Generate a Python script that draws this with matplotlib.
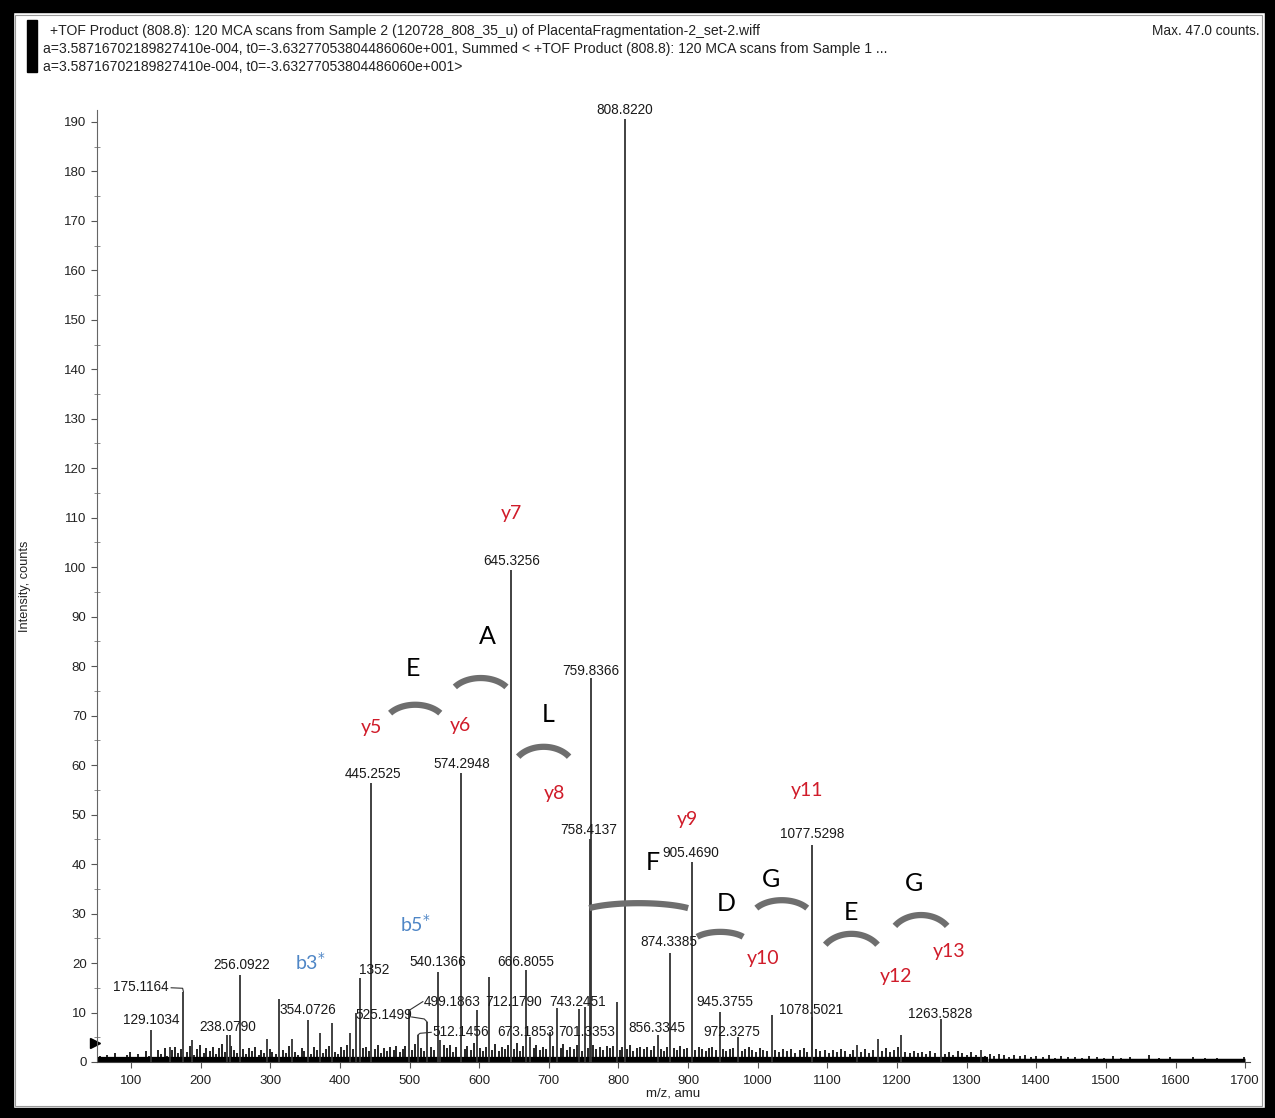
import numpy as np
import matplotlib.pyplot as plt
from matplotlib.patches import Rectangle
from matplotlib.ticker import MultipleLocator

plt.rcParams['font.family'] = ['Liberation Sans', 'DejaVu Sans']

# main peaks (m/z, intensity in counts)
peak_mz = [129.10, 156, 175.12, 187, 238.08, 242, 256.09, 295, 313, 331,
           354.07, 371.5, 388, 414.6, 423, 429.14, 445.25, 499.19, 512.15, 525.15,
           540.14, 544, 574.29, 596.5, 614.6, 645.33, 666.81, 673.19, 701.34, 712.18,
           743.25, 752, 758.41, 759.84, 797.6, 808.82, 856.33, 874.34, 905.47, 945.38,
           972.33, 1020, 1077.53, 1078.50, 1142, 1172, 1206, 1263.58, 1320]
peak_int = [6.5, 3.0, 14.2, 4.5, 5.5, 5.5, 17.6, 4.7, 12.7, 4.7,
            8.5, 5.8, 7.9, 5.8, 10.0, 17.0, 56.3, 10.5, 5.5, 8.1,
            18.2, 4.5, 58.4, 10.5, 17.2, 99.5, 18.6, 5.0, 6.0, 11.0,
            10.7, 11.2, 45.0, 77.6, 12.2, 190.6, 5.5, 22.0, 40.4, 10.2,
            5.1, 9.5, 43.9, 9.0, 3.5, 4.6, 5.5, 8.7, 2.4]

# small noise peaks along the baseline
noise_mz = [55, 60, 66, 71, 77, 83, 88, 94, 99, 104,
            110, 115, 121, 126, 133, 138, 143, 148, 152, 159,
            163, 168, 172, 180, 184, 191, 195, 199, 204, 208,
            213, 217, 222, 226, 231, 235, 244, 248, 252, 260,
            265, 269, 274, 278, 283, 287, 291, 299, 303, 308,
            318, 322, 327, 335, 340, 345, 349, 358, 362, 367,
            376, 380, 384, 393, 397, 402, 406, 410, 418, 433,
            437, 441, 450, 455, 459, 463, 468, 472, 477, 481,
            486, 490, 494, 504, 508, 516, 520, 530, 535, 549,
            553, 558, 562, 567, 579, 583, 588, 592, 601, 605,
            609, 619, 623, 628, 632, 637, 641, 650, 654, 659,
            663, 678, 682, 687, 692, 696, 706, 717, 721, 726,
            731, 736, 740, 748, 756, 763, 768, 773, 778, 783,
            788, 792, 802, 805, 812, 816, 821, 826, 831, 836,
            841, 846, 851, 861, 866, 870, 879, 884, 889, 894,
            899, 910, 915, 920, 925, 930, 935, 940, 950, 955,
            960, 965, 977, 982, 987, 992, 997, 1003, 1008, 1013,
            1025, 1031, 1036, 1042, 1048, 1054, 1060, 1066, 1071, 1084,
            1090, 1096, 1102, 1108, 1114, 1120, 1126, 1132, 1137, 1148,
            1154, 1160, 1166, 1178, 1184, 1190, 1196, 1201, 1212, 1218,
            1224, 1230, 1236, 1242, 1248, 1254, 1269, 1275, 1281, 1288,
            1294, 1300, 1307, 1313, 1326, 1333, 1340, 1347, 1354, 1361,
            1368, 1376, 1384, 1392, 1400, 1409, 1418, 1427, 1436, 1445,
            1455, 1465, 1476, 1487, 1498, 1510, 1522, 1535, 1548, 1562,
            1577, 1592, 1608, 1625, 1642, 1660, 1680, 1698]
noise_int = [1.2, 0.8, 1.5, 0.9, 1.8, 1.1, 0.7, 1.4, 2.0, 1.0,
             1.6, 0.9, 2.2, 1.3, 1.1, 2.5, 1.7, 2.8, 1.2, 2.4,
             3.0, 1.9, 2.6, 2.1, 3.2, 1.5, 2.7, 3.4, 1.8, 2.9,
             2.3, 3.1, 1.6, 2.8, 3.6, 2.0, 3.3, 2.5, 1.9, 2.6,
             1.7, 2.9, 2.2, 3.0, 1.4, 2.4, 1.8, 2.7, 2.1, 1.6,
             2.5, 1.9, 3.2, 2.0, 1.5, 2.8, 2.2, 1.7, 3.0, 2.4,
             1.8, 2.6, 3.3, 2.1, 1.6, 3.0, 2.4, 3.5, 2.7, 2.9,
             3.1, 2.2, 2.6, 3.4, 1.9, 2.8, 2.3, 3.0, 2.5, 3.2,
             2.0, 2.7, 3.3, 2.4, 3.6, 2.9, 2.2, 3.0, 2.5, 3.4,
             2.8, 3.5, 2.1, 3.0, 2.6, 3.3, 2.4, 3.8, 2.9, 2.2,
             3.1, 2.5, 3.6, 2.2, 3.0, 2.7, 3.4, 2.6, 3.9, 2.3,
             3.2, 2.8, 3.5, 2.4, 3.0, 2.6, 3.3, 2.9, 3.6, 2.5,
             3.1, 2.7, 3.4, 2.3, 2.9, 3.5, 2.6, 3.0, 2.4, 3.2,
             2.8, 3.3, 2.5, 3.0, 2.7, 3.4, 2.2, 2.9, 3.1, 2.6,
             3.0, 2.4, 3.2, 2.7, 2.3, 3.1, 2.8, 2.5, 3.3, 2.6,
             2.9, 2.4, 3.0, 2.6, 2.2, 2.8, 3.1, 2.5, 2.7, 2.3,
             2.6, 2.9, 2.2, 2.7, 3.0, 2.4, 2.1, 2.8, 2.5, 2.3,
             2.5, 2.0, 2.7, 2.3, 2.6, 1.9, 2.4, 2.8, 2.1, 2.6,
             2.2, 2.5, 1.8, 2.4, 2.0, 2.6, 2.3, 1.7, 2.5, 2.1,
             2.7, 1.9, 2.4, 2.2, 2.8, 2.0, 2.5, 3.0, 2.1, 1.8,
             2.3, 1.9, 2.1, 1.7, 2.2, 1.8, 1.6, 2.0, 1.5, 2.3,
             1.8, 1.4, 2.0, 1.5, 1.3, 1.7, 1.2, 1.6, 1.4, 1.1,
             1.5, 1.2, 1.4, 1.0, 1.3, 1.1, 1.4, 0.9, 1.2, 1.0,
             1.1, 0.8, 1.3, 1.0, 0.9, 1.2, 0.8, 1.1, 0.7, 1.5,
             0.9, 1.0, 0.7, 1.1, 0.8, 0.9, 0.6, 1.0]

# peak labels as printed on the spectrum, with where the text sits
label_text = ['808.8220', '645.3256', '759.8366', '445.2525', '574.2948', '758.4137',
              '905.4690', '1077.5298', '874.3385', '540.1366', '666.8055', '256.0922',
              '1352', '175.1164', '129.1034', '238.0790', '354.0726', '525.1499',
              '499.1863', '712.1790', '743.2451', '512.1456', '673.1853', '701.3353',
              '856.3345', '945.3755', '972.3275', '1078.5021', '1263.5828']
label_x = [809.5, 647.2, 760.0, 446.9, 575.4, 757.8,
           904.3, 1078.0, 872.7, 540.2, 667.3, 259.4,
           449.0, 114.4, 129.4, 238.6, 353.5, 462.7,
           561.0, 648.6, 740.6, 574.0, 667.3, 754.9,
           855.5, 953.0, 963.0, 1076.7, 1262.7]
label_y = [192.4, 101.3, 79.1, 58.2, 60.2, 46.9,
           42.2, 46.1, 24.3, 20.3, 20.3, 19.6,
           18.6, 15.2, 8.5, 7.1, 10.5, 9.5,
           12.2, 12.2, 12.2, 6.1, 6.1, 6.1,
           6.9, 12.2, 6.1, 10.5, 9.7]

# fragment ion names
ion_text = ['y5', 'y6', 'y7', 'y8', 'y9', 'y10', 'y11', 'y12', 'y13']
ion_x = [444.7, 572.5, 645.8, 707.5, 898.6, 1007.7, 1071.0, 1198.7, 1274.9]
ion_y = [67.7, 68.1, 110.8, 54.2, 49.1, 21.0, 54.8, 17.2, 22.4]
b_text = ['b3$^{*}$', 'b5$^{*}$']
b_x = [357.0, 507.9]
b_y = [20.2, 27.9]

# residues and the arcs between ions
res_text = ['E', 'A', 'L', 'F', 'D', 'G', 'E', 'G']
res_x = [505.0, 611.3, 698.9, 849.7, 954.5, 1019.2, 1134.1, 1224.6]
res_y = [79.6, 85.9, 70.3, 40.4, 32.1, 36.8, 30.3, 36.0]
arc_left = [472, 565, 656, 758, 913, 998, 1097, 1197]
arc_right = [544, 639, 729, 900, 979, 1071, 1172, 1272]
arc_end = [70.5, 75.8, 61.7, 31.1, 25.3, 31.1, 23.7, 27.5]
arc_top = [72.2, 77.6, 63.7, 32.1, 26.3, 32.7, 25.9, 29.7]

W, H = 1275, 1118
fig = plt.figure(figsize=(W / 100, H / 100), dpi=100)

def fx(px):
    return px / W

def fy(py):
    return 1 - py / H

# black scan border
for r in [(0, 0, W, 12), (0, 0, 13, H), (1265, 0, 10, H), (0, 1108, W, 10)]:
    fig.patches.append(Rectangle((fx(r[0]), fy(r[1] + r[3])), r[2] / W, r[3] / H,
                                 transform=fig.transFigure, color='black', zorder=0))
fig.patches.append(Rectangle((fx(15), fy(1106)), (1262 - 15) / W, (1106 - 15) / H,
                             transform=fig.transFigure, fill=False, ec='#9a9a9a', lw=0.8))
fig.patches.append(Rectangle((fx(27), fy(72)), 10 / W, 52 / H,
                             transform=fig.transFigure, color='black'))

hdr = dict(fontsize=10.1, va='center', color='#222')
fig.text(fx(50), fy(31), '+TOF Product (808.8): 120 MCA scans from Sample 2 (120728_808_35_u) of '
         'PlacentaFragmentation-2_set-2.wiff', **hdr)
fig.text(fx(43), fy(49), 'a=3.58716702189827410e-004, t0=-3.63277053804486060e+001, Summed < +TOF '
         'Product (808.8): 120 MCA scans from Sample 1 ...', **hdr)
fig.text(fx(43), fy(67), 'a=3.58716702189827410e-004, t0=-3.63277053804486060e+001>', **hdr)
fig.text(fx(1260), fy(31), 'Max. 47.0 counts.', ha='right', fontsize=9.8, va='center', color='#222')

ax = fig.add_axes([fx(97), fy(1062), (1250 - 97) / W, (1062 - 110) / H])
ax.set_xlim(51, 1707)
ax.set_ylim(0, 192.4)

# baseline noise
ax.vlines(noise_mz, 0, noise_int, color='black', lw=1.2)
ax.plot([52, 1330], [0.5, 0.5], color='black', lw=4.5, solid_capstyle='butt')
ax.plot([1330, 1700], [0.35, 0.35], color='black', lw=2.5, solid_capstyle='butt')
ax.vlines(peak_mz, 0, peak_int, color='#333333', lw=1.3)

for t, x, y in zip(label_text, label_x, label_y):
    ax.text(x, y, t, ha='center', va='center', fontsize=9.8, color='#1a1a1a')

# leader lines from crowded labels to their peaks
ax.plot([157.5, 174.0, 175.1], [15.0, 14.9, 14.2], color='#333', lw=0.8)
ax.plot([503.0, 521.0, 525.1], [9.1, 8.7, 8.1], color='#333', lw=0.8)
ax.plot([519.0, 500.0], [12.2, 10.5], color='#333', lw=0.8)
ax.plot([531.0, 515.0, 512.2], [6.0, 5.8, 5.5], color='#333', lw=0.8)

for t, x, y in zip(ion_text, ion_x, ion_y):
    ax.text(x, y, t, ha='center', va='center', fontsize=14, color='#d01c2a', family=['Lato', 'DejaVu Sans'])
for t, x, y in zip(b_text, b_x, b_y):
    ax.text(x, y, t, ha='center', va='center', fontsize=14, color='#4f86c6', family=['Lato', 'DejaVu Sans'])
for t, x, y in zip(res_text, res_x, res_y):
    ax.text(x, y, t, ha='center', va='center', fontsize=18, color='black', family=['Lato', 'DejaVu Sans'])

th0 = np.radians(35)
theta = np.linspace(th0, np.pi - th0, 60)
for l, r, e, tp in zip(arc_left, arc_right, arc_end, arc_top):
    a = (r - l) / 2 / np.cos(th0)
    b = (tp - e) / (1 - np.sin(th0))
    cx, cy = (l + r) / 2, tp - b
    ax.plot(cx + a * np.cos(theta), cy + b * np.sin(theta), color='#6e6e6e', lw=4.5,
            solid_capstyle='butt')

# threshold marker on the intensity axis
ax.plot([48], [3.8], marker='>', color='black', markersize=7, clip_on=False)

ax.spines['top'].set_visible(False)
ax.spines['right'].set_visible(False)
ax.spines['left'].set_color('#666')
ax.spines['bottom'].set_color('#444')
ax.set_xticks(range(100, 1701, 100))
ax.set_yticks(range(0, 191, 10))
ax.yaxis.set_minor_locator(MultipleLocator(5))
ax.tick_params(axis='both', which='major', direction='out', length=4, width=0.8,
               color='#555', labelsize=9.5, labelcolor='#222')
ax.tick_params(axis='x', which='major', pad=5)
ax.tick_params(axis='y', which='minor', direction='inout', length=4, width=0.6, color='#777')
ax.set_xlabel('m/z, amu', fontsize=9.5, color='#222', labelpad=1)
ax.set_ylabel('Intensity, counts', fontsize=9.2, color='#222', labelpad=24)

fig.savefig('out.png', dpi=100)
